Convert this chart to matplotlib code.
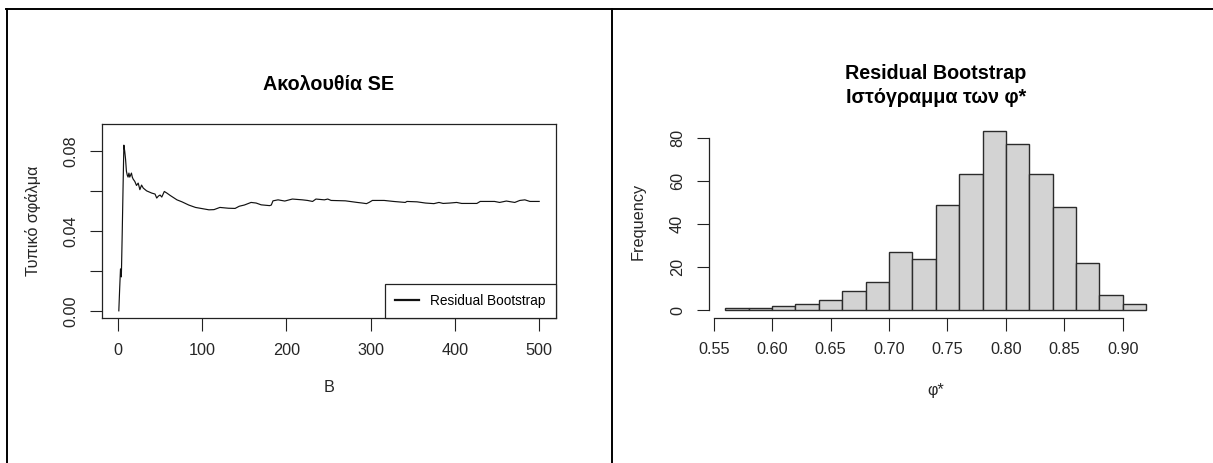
import numpy as np
import matplotlib.pyplot as plt
from matplotlib.lines import Line2D

plt.rcParams['font.family'] = ['Liberation Sans', 'DejaVu Sans']

# ---- data ----
# running bootstrap SE against number of replications B
se_B = [1, 2, 3, 4, 5, 6, 7, 8, 9, 10, 11, 12, 13, 14, 15, 16, 17, 18,
        20, 22, 24, 26, 28, 30, 34, 40, 44, 46, 48, 50, 52, 55, 58, 62,
        66, 70, 76, 84, 92, 100, 108, 114, 121, 131, 139, 144, 150, 158,
        164, 170, 180, 182, 184, 190, 198, 207, 219, 225, 231, 235, 245,
        249, 253, 270, 284, 290, 295, 298, 302, 316, 327, 341, 343, 355,
        365, 375, 381, 386, 394, 402, 408, 426, 430, 447, 453, 461, 471,
        477, 483, 489, 500]
se_val = [0.000, 0.011, 0.021, 0.017, 0.038, 0.061, 0.083, 0.080, 0.076,
          0.070, 0.068, 0.067, 0.069, 0.067, 0.068, 0.069, 0.067, 0.066,
          0.0648, 0.0628, 0.0640, 0.0607, 0.0630, 0.0615, 0.0601, 0.0590,
          0.0585, 0.0565, 0.0575, 0.0580, 0.0570, 0.0598, 0.0590, 0.0578,
          0.0567, 0.0556, 0.0546, 0.0530, 0.0518, 0.0512, 0.0506, 0.0507,
          0.0518, 0.0514, 0.0513, 0.0524, 0.0530, 0.0543, 0.0540, 0.0531,
          0.0527, 0.0530, 0.0551, 0.0556, 0.0550, 0.0560, 0.0556, 0.0553,
          0.0548, 0.0560, 0.0556, 0.0560, 0.0553, 0.0551, 0.0543, 0.0540,
          0.0537, 0.0543, 0.0553, 0.0553, 0.0548, 0.0543, 0.0548, 0.0546,
          0.0540, 0.0537, 0.0543, 0.0538, 0.0540, 0.0543, 0.0538, 0.0538,
          0.0548, 0.0548, 0.0543, 0.0550, 0.0543, 0.0553, 0.0556, 0.0548,
          0.0548]

# histogram of phi*
bin_edges = [0.56, 0.58, 0.60, 0.62, 0.64, 0.66, 0.68, 0.70, 0.72, 0.74,
             0.76, 0.78, 0.80, 0.82, 0.84, 0.86, 0.88, 0.90, 0.92]
counts = [1, 1, 2, 3, 5, 9, 13, 27, 24, 49, 63, 83, 77, 63, 48, 22, 7, 3]

se_xticks = [0, 100, 200, 300, 400, 500]
se_yticks = [0.00, 0.02, 0.04, 0.06, 0.08]
se_ylabels = ['0.00', '', '0.04', '', '0.08']
hist_xticks = [0.55, 0.60, 0.65, 0.70, 0.75, 0.80, 0.85, 0.90]
hist_yticks = [0, 20, 40, 60, 80]

W, H = 1213, 463
fig = plt.figure(figsize=(W / 100, H / 100), dpi=100)


def px_axes(l, t, r, b):
    return fig.add_axes([l / W, 1 - b / H, (r - l) / W, (b - t) / H])


def fx(x):
    return x / W


def fy(y):
    return 1 - y / H


tick_kw = dict(direction='out', length=9, width=0.8, labelsize=11.7,
               color='#222222', labelcolor='#262626')

# ---- left panel: SE sequence ----
ax1 = px_axes(102, 124, 556, 318)
ax1.plot(se_B, se_val, color='#111111', lw=0.85, label='Residual Bootstrap')
ax1.set_xlim(-18.96, 519.96)
ax1.set_ylim(-0.0036, 0.0936)
ax1.set_xticks(se_xticks)
ax1.set_yticks(se_yticks)
ax1.set_yticklabels(se_ylabels, rotation=90, va='center')
ax1.tick_params(axis='x', pad=9, **tick_kw)
ax1.tick_params(axis='y', pad=8, **tick_kw)
for s in ax1.spines.values():
    s.set_linewidth(0.9)
    s.set_color('#222222')
leg = ax1.legend(loc='lower right', borderaxespad=0, fancybox=False,
                 edgecolor='#222222', framealpha=1, fontsize=9.8,
                 handlelength=1.8, handletextpad=0.8, borderpad=0.75)
leg.get_frame().set_linewidth(0.9)
for ln in leg.get_lines():
    ln.set_linewidth(1.6)

fig.text(fx(329), fy(85), 'Ακολουθία SE', ha='center', va='center',
         fontsize=14.2, fontweight='bold')
fig.text(fx(329), fy(388), 'B', ha='center', va='center', fontsize=11.7,
         color='#262626')
fig.text(fx(33), fy(221), 'Τυπικό σφάλμα', ha='center', va='center',
         rotation=90, fontsize=11.7, color='#262626')

# ---- right panel: histogram ----
ax2 = px_axes(708.5, 124, 1163, 317.5)
ax2.bar(bin_edges[:-1], counts, width=np.diff(bin_edges), align='edge',
        color='#d3d3d3', edgecolor='#2b2b2b', linewidth=1.0)
ax2.set_xlim(0.5456, 0.9344)
ax2.set_ylim(-3.32, 86.32)
ax2.set_xticks(hist_xticks)
ax2.set_xticklabels([f'{v:.2f}' for v in hist_xticks])
ax2.set_yticks(hist_yticks)
ax2.set_yticklabels([str(v) for v in hist_yticks], rotation=90, va='center')
ax2.tick_params(axis='x', pad=9, **tick_kw)
ax2.tick_params(axis='y', pad=8, **tick_kw)
ax2.spines['top'].set_visible(False)
ax2.spines['right'].set_visible(False)
ax2.spines['left'].set_bounds(0, 80)
ax2.spines['bottom'].set_bounds(0.55, 0.90)
for s in ax2.spines.values():
    s.set_linewidth(0.9)
    s.set_color('#222222')

fig.text(fx(935.7), fy(85.5), 'Residual Bootstrap\nΙστόγραμμα των φ*',
         ha='center', va='center', fontsize=14.2, fontweight='bold',
         linespacing=1.32)
fig.text(fx(935.7), fy(390), 'φ*', ha='center', va='center', fontsize=11.7,
         color='#262626')
fig.text(fx(638), fy(221), 'Frequency', ha='center', va='center',
         rotation=90, fontsize=11.7, color='#262626')

# ---- table frame around the two panels ----
lw = 1.4
fig.add_artist(Line2D([fx(6), 1], [fy(8.8), fy(8.8)], color='black', lw=lw))
fig.add_artist(Line2D([fx(6.6), fx(6.6)], [fy(8.8), 0], color='black', lw=lw))
fig.add_artist(Line2D([fx(611.8), fx(611.8)], [fy(8.8), 0], color='black', lw=lw))

fig.savefig('out.png', dpi=100)
